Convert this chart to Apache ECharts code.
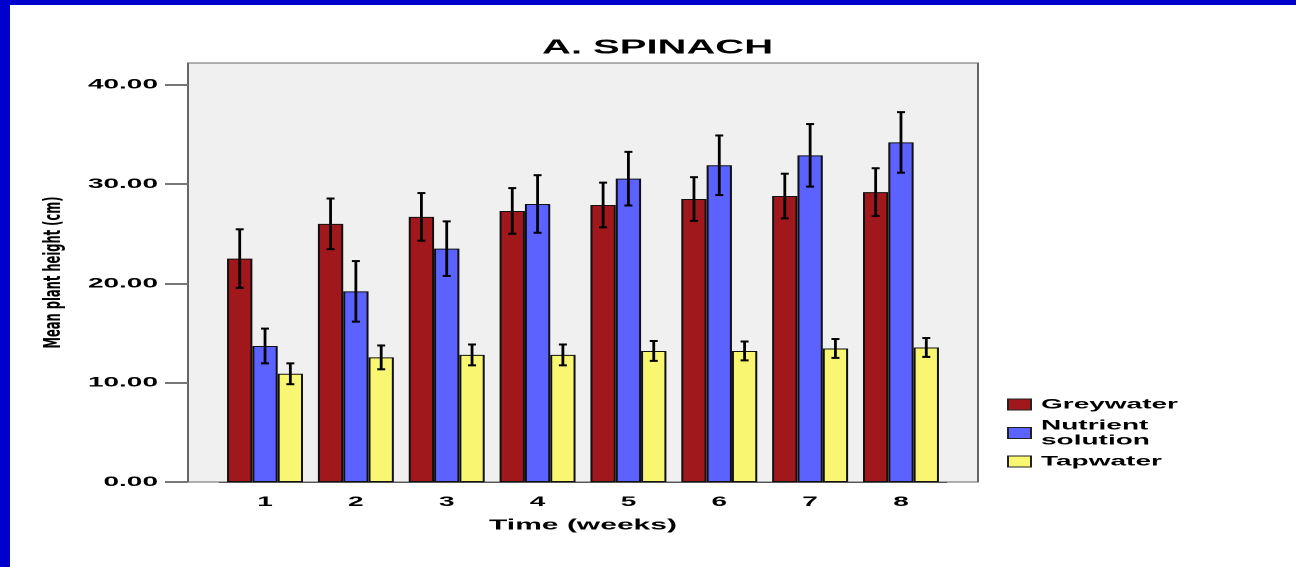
<!DOCTYPE html>
<html>
<head>
<meta charset="utf-8">
<title>A. SPINACH</title>
<script src="https://cdn.jsdelivr.net/npm/echarts@6/dist/echarts.min.js"></script>
<style>
  html, body {
    margin: 0;
    padding: 0;
    width: 1296px;
    height: 567px;
    overflow: hidden;
    background: #fff;
  }
  /* the source picture is stretched sideways, so the chart is drawn at half width and scaled */
  #chart {
    position: absolute;
    left: 0;
    top: 0;
    width: 648px;
    height: 567px;
    transform: scaleX(2);
    transform-origin: 0 0;
  }
  .edge-top {
    position: absolute;
    left: 0;
    top: 0;
    width: 1296px;
    height: 5px;
    background: #0000cc;
  }
  .edge-left {
    position: absolute;
    left: 0;
    top: 0;
    width: 10px;
    height: 567px;
    background: #0000cc;
  }
</style>
</head>
<body>
<div id="chart"></div>
<div class="edge-top"></div>
<div class="edge-left"></div>
<script>
const weeks = ['1', '2', '3', '4', '5', '6', '7', '8']
const yTicks = [0, 10, 20, 30, 40]

const greywater = [22.5, 26.0, 26.7, 27.3, 27.9, 28.5, 28.8, 29.2]
const greywaterErr = [2.95, 2.55, 2.4, 2.3, 2.25, 2.2, 2.25, 2.4]

const nutrient = [13.7, 19.2, 23.5, 28.0, 30.55, 31.9, 32.9, 34.2]
const nutrientErr = [1.75, 3.05, 2.75, 2.9, 2.7, 3.0, 3.15, 3.05]

const tapwater = [10.9, 12.55, 12.8, 12.8, 13.2, 13.2, 13.45, 13.55]
const tapwaterErr = [1.05, 1.2, 1.05, 1.05, 1.0, 0.95, 0.95, 0.95]

const yMax = 42.2
const catGap = 0.164
const font = "'Liberation Sans', Arial, sans-serif"

const myChart = echarts.init(document.getElementById('chart'), null, { devicePixelRatio: 2 })

function errData (means, errs) {
  return means.map((m, i) => [i, m - errs[i], m + errs[i]])
}

function errRender (slot) {
  return function (params, api) {
    const x = api.coord([api.value(0), 0])[0]
    const band = api.size([1, 0])[0]
    const w = band * (1 - catGap) / 3
    const cx = x + (slot - 1) * w
    const lo = api.coord([api.value(0), api.value(1)])[1]
    const hi = api.coord([api.value(0), api.value(2)])[1]
    const cap = 2
    return {
      type: 'group',
      children: [
        { type: 'line', shape: { x1: cx, y1: hi, x2: cx, y2: lo }, style: { stroke: '#000', lineWidth: 1.4 } },
        { type: 'line', shape: { x1: cx - cap, y1: hi, x2: cx + cap, y2: hi }, style: { stroke: '#000', lineWidth: 2 } },
        { type: 'line', shape: { x1: cx - cap, y1: lo, x2: cx + cap, y2: lo }, style: { stroke: '#000', lineWidth: 2 } }
      ]
    }
  }
}

const barBorder = { borderColor: '#111', borderWidth: 1 }

const option = {
  animation: false,
  title: {
    text: 'A. SPINACH',
    left: 266,
    top: 33,
    textStyle: {
      fontFamily: font,
      fontWeight: 'bold',
      fontSize: 20,
      color: '#000'
    }
  },
  legend: {
    orient: 'vertical',
    left: 498.5,
    top: 392,
    itemWidth: 11.5,
    itemHeight: 11,
    itemGap: 6,
    icon: 'rect',
    data: ['Greywater', 'Nutrient\nsolution', 'Tapwater'],
    itemStyle: { borderColor: '#222', borderWidth: 1 },
    textStyle: {
      fontFamily: font,
      fontWeight: 'bold',
      fontSize: 14,
      lineHeight: 15,
      color: '#000'
    }
  },
  grid: [
    {
      // plot frame with grey background
      left: 94,
      right: 159,
      top: 63,
      bottom: 85,
      show: true,
      backgroundColor: '#f0f0f0',
      borderColor: '#666',
      borderWidth: 1
    },
    {
      left: 109.8,
      right: 174.8,
      top: 63,
      bottom: 85
    }
  ],
  xAxis: [
    {
      gridIndex: 0,
      type: 'value',
      show: false
    },
    {
      gridIndex: 1,
      type: 'category',
      data: weeks,
      name: 'Time (weeks)',
      nameLocation: 'middle',
      nameGap: 36,
      nameTextStyle: {
        fontFamily: font,
        fontWeight: 'bold',
        fontSize: 15,
        color: '#000'
      },
      axisLine: { show: true, lineStyle: { color: '#555', width: 1 } },
      axisTick: { alignWithLabel: true, length: 10, lineStyle: { color: '#000', width: 1 } },
      axisLabel: {
        margin: 13,
        fontFamily: font,
        fontWeight: 'bold',
        fontSize: 14,
        color: '#000'
      }
    }
  ],
  yAxis: [
    {
      gridIndex: 0,
      type: 'value',
      min: 0,
      max: yMax,
      interval: 10,
      name: 'Mean plant height (cm)',
      nameLocation: 'middle',
      nameGap: 58,
      nameTextStyle: {
        fontFamily: "'DejaVu Sans', sans-serif",
        fontWeight: 'bold',
        fontSize: 11.5,
        color: '#000'
      },
      splitLine: { show: false },
      axisLine: { show: false },
      axisTick: {
        show: true,
        length: 11.5,
        customValues: yTicks,
        lineStyle: { color: '#777', width: 2 }
      },
      axisLabel: {
        margin: 15,
        customValues: yTicks,
        formatter: v => v.toFixed(2),
        fontFamily: font,
        fontWeight: 'bold',
        fontSize: 14,
        color: '#000'
      }
    },
    {
      gridIndex: 1,
      type: 'value',
      min: 0,
      max: yMax,
      show: false,
      splitLine: { show: false }
    }
  ],
  series: [
    {
      name: 'Greywater',
      type: 'bar',
      xAxisIndex: 1,
      yAxisIndex: 1,
      data: greywater,
      barGap: '0%',
      barCategoryGap: (catGap * 100) + '%',
      itemStyle: Object.assign({ color: '#a0171c' }, barBorder)
    },
    {
      name: 'Nutrient\nsolution',
      type: 'bar',
      xAxisIndex: 1,
      yAxisIndex: 1,
      data: nutrient,
      barGap: '0%',
      barCategoryGap: (catGap * 100) + '%',
      itemStyle: Object.assign({ color: '#5b62ff' }, barBorder)
    },
    {
      name: 'Tapwater',
      type: 'bar',
      xAxisIndex: 1,
      yAxisIndex: 1,
      data: tapwater,
      barGap: '0%',
      barCategoryGap: (catGap * 100) + '%',
      itemStyle: Object.assign({ color: '#f9f772' }, barBorder)
    },
    {
      type: 'custom',
      xAxisIndex: 1,
      yAxisIndex: 1,
      renderItem: errRender(0),
      data: errData(greywater, greywaterErr),
      z: 5
    },
    {
      type: 'custom',
      xAxisIndex: 1,
      yAxisIndex: 1,
      renderItem: errRender(1),
      data: errData(nutrient, nutrientErr),
      z: 5
    },
    {
      type: 'custom',
      xAxisIndex: 1,
      yAxisIndex: 1,
      renderItem: errRender(2),
      data: errData(tapwater, tapwaterErr),
      z: 5
    }
  ]
}

myChart.setOption(option)
</script>
</body>
</html>
